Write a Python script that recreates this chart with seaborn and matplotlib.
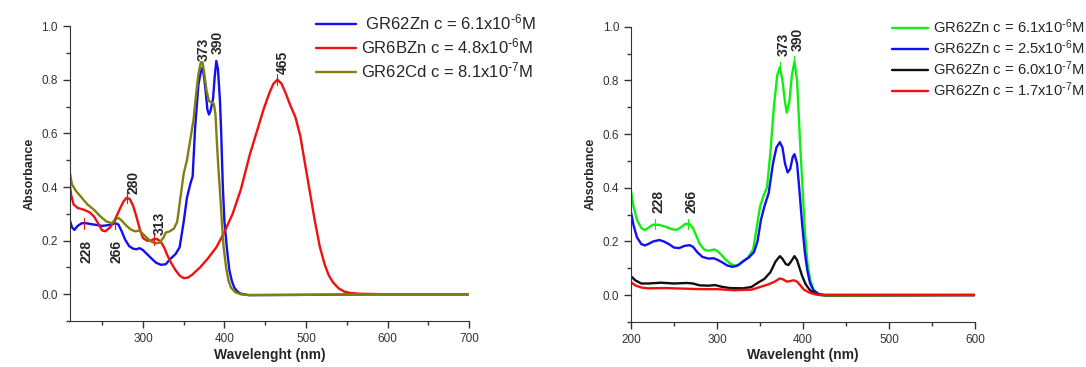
import numpy as np
import matplotlib
matplotlib.use('Agg')
import matplotlib.pyplot as plt
import seaborn as sns

# ---- left panel: three compounds ----
zn_wl = [210, 213, 216, 220, 225, 230, 240, 250, 258, 266, 270, 274, 278, 283, 288, 292, 296,
         300, 305, 310, 316, 322, 328, 333, 340, 345, 350, 354, 358, 361, 364, 368, 371, 373,
         375, 377, 379, 381, 383, 386, 388, 390, 392, 394.5, 396, 398, 400, 403, 406, 409, 412,
         416, 420, 430, 500, 600, 700]
zn_abs = [0.28, 0.25, 0.24, 0.255, 0.265, 0.265, 0.26, 0.255, 0.258, 0.265, 0.26, 0.235, 0.205, 0.18, 0.17, 0.168, 0.172,
          0.165, 0.15, 0.135, 0.118, 0.11, 0.112, 0.13, 0.15, 0.175, 0.27, 0.36, 0.41, 0.44, 0.62, 0.78, 0.83, 0.845,
          0.81, 0.755, 0.69, 0.67, 0.685, 0.73, 0.81, 0.87, 0.84, 0.72, 0.6, 0.4, 0.27, 0.17, 0.09, 0.05, 0.025,
          0.01, 0.002, -0.003, -0.002, 0.0, 0.0]

bz_wl = [210, 212, 215, 220, 228, 235, 240, 245, 250, 254, 260, 266, 272, 276, 280, 284, 288,
         292, 296, 300, 305, 310, 314, 318, 322, 326, 330, 335, 340, 345, 350, 355, 360, 370,
         380, 390, 399, 410, 420, 431, 440, 448, 455, 460, 465, 470, 475, 480, 487, 493, 498,
         505, 511, 517, 523, 528, 533, 540, 547, 554, 565, 600, 700]
bz_abs = [0.42, 0.37, 0.335, 0.322, 0.315, 0.305, 0.29, 0.265, 0.238, 0.235, 0.25, 0.28, 0.32, 0.345, 0.36, 0.355, 0.33,
          0.29, 0.245, 0.21, 0.2, 0.2, 0.207, 0.205, 0.195, 0.175, 0.145, 0.115, 0.09, 0.07, 0.06, 0.062, 0.072, 0.1,
          0.135, 0.175, 0.226, 0.3, 0.39, 0.52, 0.61, 0.69, 0.75, 0.785, 0.80, 0.785, 0.75, 0.71, 0.66, 0.59, 0.50,
          0.376, 0.27, 0.176, 0.11, 0.07, 0.045, 0.022, 0.01, 0.005, 0.002, 0.0, 0.0]

cd_wl = [210, 213, 218, 225, 232, 240, 248, 255, 262, 267, 270, 274, 280, 285, 290, 296, 300,
         305, 310, 315, 320, 325, 328, 333, 338, 342, 346, 350, 354, 358, 362, 365, 368, 371,
         373, 375, 378, 381, 384, 387, 389, 391, 393, 395, 397, 399, 402, 405, 408, 413, 420,
         430, 500, 600, 700]
cd_abs = [0.46, 0.41, 0.385, 0.36, 0.335, 0.315, 0.29, 0.272, 0.265, 0.28, 0.285, 0.275, 0.255, 0.242, 0.235, 0.237, 0.225,
          0.21, 0.197, 0.19, 0.192, 0.21, 0.23, 0.235, 0.245, 0.27, 0.36, 0.45, 0.50, 0.575, 0.65, 0.74, 0.82, 0.865,
          0.865, 0.83, 0.76, 0.72, 0.715, 0.71, 0.67, 0.55, 0.45, 0.36, 0.26, 0.175, 0.1, 0.05, 0.025, 0.008, 0.0,
          -0.003, -0.002, 0.0, 0.0]

left_labels = [' GR62Zn c = 6.1x10$^{\\text{-}6}$M', 'GR6BZn c = 4.8x10$^{\\text{-}6}$M',
               'GR62Cd c = 8.1x10$^{\\text{-}7}$M']
left_colors = ['#1010f0', '#f01010', '#808010']

# peak marks on left panel
left_peaks = [228, 266, 280, 313, 373, 390, 465]
left_peak_y = [0.265, 0.265, 0.36, 0.205, None, None, 0.80]
left_label_x = [231, 268, 288, 320, 375, 392, 472]
left_label_y = [0.115, 0.115, 0.375, 0.22, 0.87, 0.895, 0.82]

# ---- right panel: GR62Zn dilution series ----
g_wl = [200, 203, 207, 212, 216, 220, 225, 232, 240, 248, 253, 258, 263, 268, 272, 276, 280,
        285, 290, 294, 297, 300, 305, 310, 315, 320, 325, 330, 336, 342, 346, 350, 354, 358,
        362, 366, 370, 373, 376, 379, 381, 384, 387, 390, 393, 396, 399, 402, 405, 408, 412,
        417, 425, 500, 600]
g_abs = [0.39, 0.33, 0.28, 0.25, 0.242, 0.25, 0.262, 0.262, 0.255, 0.245, 0.243, 0.252, 0.265, 0.265, 0.25, 0.22, 0.19,
         0.17, 0.165, 0.168, 0.17, 0.165, 0.15, 0.132, 0.118, 0.11, 0.112, 0.125, 0.14, 0.17, 0.25, 0.33, 0.37, 0.40,
         0.53, 0.70, 0.82, 0.85, 0.8, 0.72, 0.68, 0.72, 0.82, 0.87, 0.8, 0.6, 0.42, 0.24, 0.12, 0.06, 0.02,
         0.005, -0.003, -0.002, 0.0]

b_wl = [200, 203, 207, 212, 216, 220, 226, 233, 238, 244, 250, 256, 262, 268, 272, 277, 283,
        290, 296, 300, 306, 312, 318, 324, 330, 337, 343, 347, 351, 355, 360, 365, 369, 373,
        376, 379, 382, 385, 388, 390, 393, 396, 399, 402, 405, 408, 412, 418, 425, 500, 600]
b_abs = [0.31, 0.26, 0.215, 0.19, 0.185, 0.19, 0.2, 0.205, 0.2, 0.19, 0.177, 0.175, 0.183, 0.186, 0.18, 0.16, 0.142,
         0.136, 0.137, 0.132, 0.122, 0.11, 0.105, 0.11, 0.125, 0.14, 0.16, 0.2, 0.28, 0.33, 0.38, 0.49, 0.55, 0.57,
         0.55, 0.49, 0.457, 0.47, 0.515, 0.525, 0.49, 0.38, 0.26, 0.16, 0.09, 0.045, 0.018, 0.004, 0.0, 0.0, 0.0]

k_wl = [200, 205, 212, 220, 235, 250, 265, 272, 280, 290, 298, 305, 315, 330, 340, 347, 355,
        362, 368, 373, 376, 380, 383, 386, 390, 393, 396, 399, 403, 408, 414, 420, 500, 600]
k_abs = [0.07, 0.055, 0.043, 0.043, 0.046, 0.043, 0.045, 0.043, 0.036, 0.035, 0.037, 0.031, 0.026, 0.025, 0.03, 0.045, 0.06,
         0.085, 0.125, 0.145, 0.135, 0.115, 0.112, 0.125, 0.145, 0.13, 0.1, 0.07, 0.04, 0.018, 0.005, 0.0, 0.0, 0.0]

r_wl = [200, 205, 212, 220, 240, 260, 280, 300, 320, 340, 350, 360, 367, 373, 377, 381, 385,
        389, 393, 397, 401, 408, 415, 420, 500, 600]
r_abs = [0.048, 0.036, 0.028, 0.025, 0.026, 0.024, 0.022, 0.022, 0.018, 0.02, 0.03, 0.04, 0.05, 0.062, 0.058, 0.05, 0.052,
         0.055, 0.05, 0.035, 0.02, 0.008, 0.002, 0.0, 0.0, 0.0]

right_labels = ['GR62Zn c = 6.1x10$^{\\text{-}6}$M', 'GR62Zn c = 2.5x10$^{\\text{-}6}$M',
                'GR62Zn c = 6.0x10$^{\\text{-}7}$M', 'GR62Zn c = 1.7x10$^{\\text{-}7}$M']
right_colors = ['#10f010', '#1010f0', '#101010', '#f01010']

right_peaks = [228, 266, 373, 390]
right_peak_y = [0.265, 0.265, 0.85, 0.87]
right_label_x = [232, 270, 377, 394]
right_label_y = [0.305, 0.305, 0.89, 0.91]


sns.set_style('ticks')
plt.rcParams['font.family'] = ['Liberation Sans', 'DejaVu Sans']
plt.rcParams['mathtext.default'] = 'regular'
plt.rcParams['axes.edgecolor'] = '#333333'
plt.rcParams['xtick.color'] = '#333333'
plt.rcParams['ytick.color'] = '#333333'

fig = plt.figure(figsize=(10.86, 3.67), dpi=100)
ax1 = fig.add_axes([0.064, 0.125, 0.368, 0.804])
ax2 = fig.add_axes([0.581, 0.123, 0.317, 0.804])


def style_axis(ax, xlim, xticks):
    ax.set_xticks(xticks)
    ax.set_yticks([0.0, 0.2, 0.4, 0.6, 0.8, 1.0])
    ax.set_xticks([v for v in range(150, 701, 50) if xlim[0] <= v <= xlim[1]], minor=True)
    ax.set_yticks(np.arange(-0.1, 1.01, 0.1), minor=True)
    ax.set_xlim(*xlim)
    ax.set_ylim(-0.1, 1.0)
    ax.tick_params(which='both', direction='out', labelsize=8.5)
    ax.tick_params(which='major', length=5, width=1)
    ax.tick_params(which='minor', length=3, width=1)
    ax.yaxis.set_major_formatter(matplotlib.ticker.FormatStrFormatter('%.1f'))
    ax.set_xlabel('Wavelenght (nm)', fontsize=10, fontweight='bold', labelpad=2)
    ax.set_ylabel('Absorbance', fontsize=9, fontweight='bold', labelpad=4)
    sns.despine(ax=ax)


left_series = [(zn_wl, zn_abs), (bz_wl, bz_abs), (cd_wl, cd_abs)]
for (wl, ab), lab, col in zip(left_series, left_labels, left_colors):
    sns.lineplot(x=wl, y=ab, ax=ax1, color=col, label=lab, linewidth=1.7)
style_axis(ax1, (210, 700), [300, 400, 500, 600, 700])

for p, py, lx, ly in zip(left_peaks, left_peak_y, left_label_x, left_label_y):
    if py is not None:
        ax1.plot([p, p], [py - 0.02, py + 0.02], color='#f01010', linewidth=0.8)
    ax1.text(lx, ly, str(p), rotation=90, ha='center', va='bottom',
             fontsize=10, fontweight='bold')

ax1.legend(loc='upper left', bbox_to_anchor=(0.2775, 1.006), bbox_transform=fig.transFigure,
           frameon=False, fontsize=12, handlelength=2.4, handletextpad=0.3, labelspacing=0.24)

right_series = [(g_wl, g_abs), (b_wl, b_abs), (k_wl, k_abs), (r_wl, r_abs)]
for (wl, ab), lab, col in zip(right_series, right_labels, right_colors):
    sns.lineplot(x=wl, y=ab, ax=ax2, color=col, label=lab, linewidth=1.7)
style_axis(ax2, (200, 600), [200, 300, 400, 500, 600])

for p, py, lx, ly in zip(right_peaks, right_peak_y, right_label_x, right_label_y):
    ax2.plot([p, p], [py - 0.02, py + 0.02], color='#10f010', linewidth=0.8)
    ax2.text(lx, ly, str(p), rotation=90, ha='center', va='bottom',
             fontsize=10, fontweight='bold')

ax2.legend(loc='upper left', bbox_to_anchor=(0.809, 0.989), bbox_transform=fig.transFigure,
           frameon=False, fontsize=10.6, handlelength=2.45, handletextpad=0.34, labelspacing=0.17)

plt.savefig('out.png', dpi=100)
